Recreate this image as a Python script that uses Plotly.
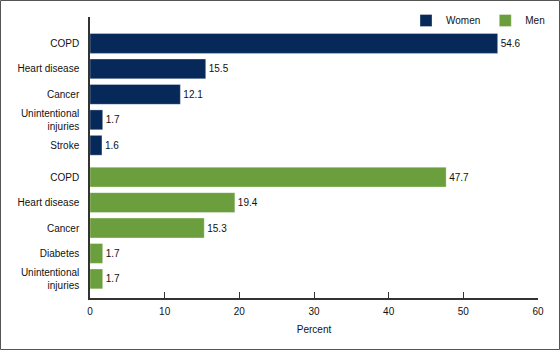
import plotly.graph_objects as go

women_causes = ["COPD", "Heart disease", "Cancer", "Unintentional<br>injuries", "Stroke"]
women_values = [54.6, 15.5, 12.1, 1.7, 1.6]
men_causes = ["COPD", "Heart disease", "Cancer", "Diabetes", "Unintentional<br>injuries"]
men_values = [47.7, 19.4, 15.3, 1.7, 1.7]
x_ticks = [0, 10, 20, 30, 40, 50, 60]

WOMEN_COLOR = "#06295a"
MEN_COLOR = "#6b9e3c"
FONT = "Liberation Sans, Arial, sans-serif"

group_gap = 1.25
women_pos = list(range(len(women_values)))
men_pos = [len(women_values) - 1 + group_gap + i for i in range(len(men_values))]

fig = go.Figure()
fig.add_trace(go.Bar(
    name="Women", orientation="h",
    x=women_values, y=women_pos,
    marker=dict(color=WOMEN_COLOR, line=dict(color="rgba(255,255,255,0.55)", width=0.6)),
    width=0.78,
    text=[f"{v:.1f}" for v in women_values], textposition="outside",
    textfont=dict(size=10, color="#111", family=FONT),
    cliponaxis=False, hoverinfo="x+y",
))
fig.add_trace(go.Bar(
    name="Men", orientation="h",
    x=men_values, y=men_pos,
    marker=dict(color=MEN_COLOR, line=dict(color="rgba(255,255,255,0.55)", width=0.6)),
    width=0.78,
    text=[f"{v:.1f}" for v in men_values], textposition="outside",
    textfont=dict(size=10, color="#111", family=FONT),
    cliponaxis=False, hoverinfo="x+y",
))

L, R, T, B = 90, 22, 17, 52
W, H = 560, 350
pw, ph = W - L - R, H - T - B

fig.update_layout(
    width=W, height=H,
    margin=dict(l=L, r=R, t=T, b=B, pad=0, autoexpand=False),
    paper_bgcolor="white", plot_bgcolor="white",
    font=dict(family=FONT, size=10, color="#111"),
    bargap=0.2,
    showlegend=True,
    legend=dict(
        orientation="h", x=1 + 12 / pw, xanchor="right",
        y=1 - 3.5 / ph, yanchor="middle",
        font=dict(size=10, family=FONT, color="#111"),
        bgcolor="rgba(0,0,0,0)", traceorder="normal",
        itemwidth=30,
    ),
    xaxis=dict(
        range=[0, 60], tickvals=x_ticks, ticktext=[str(t) for t in x_ticks],
        showgrid=False, zeroline=False,
        showline=True, linecolor="#333", linewidth=1.5,
        ticks="inside", ticklen=6, tickwidth=1.2, tickcolor="#333",
        tickfont=dict(size=10, family=FONT, color="#111"),
        ticklabelstandoff=3,
        title=dict(text="Percent", font=dict(size=10, family=FONT, color="#111"), standoff=10),
        fixedrange=True,
    ),
    yaxis=dict(
        range=[10.0, -1.04],
        tickvals=women_pos + men_pos, ticktext=women_causes + men_causes,
        showgrid=False, zeroline=False,
        showline=True, linecolor="#333", linewidth=1.5,
        ticks="", ticklabelstandoff=7,
        tickfont=dict(size=10, family=FONT, color="#111"),
        fixedrange=True,
    ),
    shapes=[dict(
        type="rect", xref="paper", yref="paper",
        x0=(0.5 - L) / pw, x1=(W - 0.5 - L) / pw,
        y0=(T + ph - (H - 0.5)) / ph, y1=(T + ph - 0.5) / ph,
        line=dict(color="#555", width=1), fillcolor="rgba(0,0,0,0)", layer="above",
    )],
)

fig.write_html("out.html", config={"displayModeBar": False})
